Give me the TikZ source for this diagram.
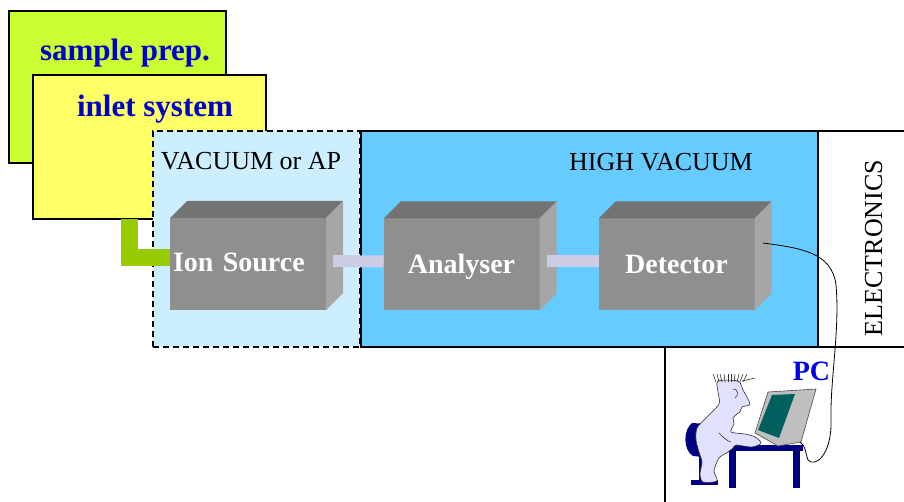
\documentclass[tikz,border=0pt]{standalone}
\usepackage{fontspec}
\setmainfont{Liberation Serif}
\usetikzlibrary{positioning}

\definecolor{prepfill}{HTML}{CCFF33}
\definecolor{inletfill}{HTML}{FFFF66}
\definecolor{lowvac}{HTML}{CCEEFF}
\definecolor{highvac}{HTML}{66CCFF}
\definecolor{pipe}{HTML}{CCCCE6}
\definecolor{feed}{HTML}{99CC00}
\definecolor{labelblue}{HTML}{0000CC}
\definecolor{pcblue}{HTML}{0000EE}
\definecolor{navy}{HTML}{000080}
\definecolor{skin}{HTML}{E0E0FF}
\definecolor{screen}{HTML}{006060}

% top and side faces of a box unit
\newcommand{\unitfaces}[1]{%
  \fill[black!55] (#1.north west) -- ++(17,-17) -- ([shift={(17,-17)}]#1.north east) -- (#1.north east) -- cycle;
  \fill[black!35] (#1.north east) -- ++(17,-17) -- ([shift={(17,-17)}]#1.south east) -- (#1.south east) -- cycle;}

\begin{document}
\begin{tikzpicture}[x=1pt,y=-1pt,
    region/.style={draw=black,line width=2pt,inner sep=0pt,outer sep=0pt,anchor=north west},
    title/.style={anchor=base,text=labelblue,font=\fontsize{31}{36}\selectfont\bfseries},
    zone/.style={anchor=base,font=\fontsize{26}{30}\selectfont}]
    \tikzstyle{unit}=[fill=black!44,minimum width=156pt,minimum height=92pt,inner sep=0pt,outer sep=0pt,text height=22pt,text depth=3pt,text=white,font=\fontsize{28}{32}\selectfont\bfseries]
    \tikzstyle{link}=[pipe,line width=12pt]
    \tikzstyle{outline}=[draw=black!80,line width=.6pt]

    \useasboundingbox (0,0) rectangle (904,502);

    % stacked front-end boxes
    \node[region,fill=prepfill,minimum width=217pt,minimum height=152pt] (prep) at (9,11) {};
    \node[title] (preplabel) at (125,61) {sample prep.};
    \node[region,fill=inletfill,minimum width=233pt,minimum height=144pt] (inlet) at (33,75) {};
    \node[title] (inletlabel) at (155,117) {inlet system};

    % vacuum regions
    \node[region,fill=lowvac,dashed,dash pattern=on 6pt off 4pt,minimum width=207pt,minimum height=216pt] (lowv) at (153,131) {};
    \node[zone] (lowvlabel) at (251,170) {VACUUM or AP};
    \node[region,fill=highvac,minimum width=457pt,minimum height=216pt] (highv) at (361,131) {};
    \node[zone] (highvlabel) at (661,171) {HIGH VACUUM};

    % electronics and pc panels
    \draw[line width=2pt] (highv.north east) -- (904,131);
    \draw[line width=2pt] (highv.south east) -- (904,347);
    \draw[line width=2pt] (665,347) -- (665,502);
    \node[zone,rotate=90] (elec) at (882,248) {ELECTRONICS};

    % units
    \node[unit,text depth=6pt,text width=150pt,align=left,inner xsep=3pt] (ion) at (248,264) {Ion Source};
    \unitfaces{ion}
    \node[unit] (ana) at (461.5,264.5) {Analyser};
    \unitfaces{ana}
    \node[unit] (det) at (676.5,264.5) {Detector};
    \unitfaces{det}

    \draw[link] ([shift={(7,-3)}]ion.east) -- ([shift={(0,-3)}]ana.west);
    \draw[link] ([shift={(7,-3)}]ana.east) -- ([shift={(0,-3)}]det.west);
    \draw[feed,line width=17pt] ([xshift=96.5pt]inlet.south west) |- ([yshift=6pt]ion.west);

    % pc user
    \fill[navy] (692,423) .. controls (683,430) and (683,450) .. (693,456) -- (714,458) -- (714,448) .. controls (702,446) and (700,432) .. (708,424) -- cycle;
    \fill[navy] (699,455) rectangle (704,483);
    \fill[navy] (691,480) rectangle (718,485);
    \fill[navy] (728,445) rectangle (803,451);
    \fill[navy] (729,449) rectangle (736,488);
    \fill[navy] (793,449) rectangle (800,488);
    \filldraw[fill=skin,outline] plot[smooth cycle,tension=.45] coordinates {(718,381) (738,381) (743,390) (750,404) (742,407) (740,412) (737,414) (733,418) (734,424) (731,432) (745,434) (755,437) (761,443) (752,447) (736,445) (733,448) (728,452) (719,458) (714,471) (717,481) (703,482) (700,474) (702,462) (699,452) (696,440) (697,428) (706,418) (719,404) (718,392)};
    \draw[outline] (719,433) .. controls (724,438) and (727,441) .. (731,442);
    \draw[outline] (733,389) .. controls (738,388) and (739,396) .. (735,398);
    \foreach \x/\d in {716/-3,719/-2,722/-2,725/-1,728/0,731/0,734/1,737/2,740/3,743/4}
        \draw[outline] (\x,382) -- ++(\d,-8);
    \draw[outline] (742,381) -- (755,378);
    \filldraw[fill=black!25,draw=black!70,line width=.6pt] (768,392) -- (816,389) -- (801,442) -- (778,446) -- (755,433) -- cycle;
    \fill[screen] (772,395) -- (795,394) -- (779,438) -- (758,430) -- cycle;
    \node[anchor=base,text=pcblue,font=\fontsize{28}{32}\selectfont\bfseries] (pc) at (811.5,380) {PC};

    % signal cable
    \coordinate (plug) at (763,243);
    \coordinate (port) at (800,442);
    \draw[line width=.8pt] (plug) .. controls (800,248) and (832,252) .. (836,285)
        .. controls (840,330) and (830,380) .. (831,420)
        .. controls (832,455) and (815,468) .. (808,460)
        .. controls (805,452) and (806,446) .. (port);
\end{tikzpicture}
\end{document}
